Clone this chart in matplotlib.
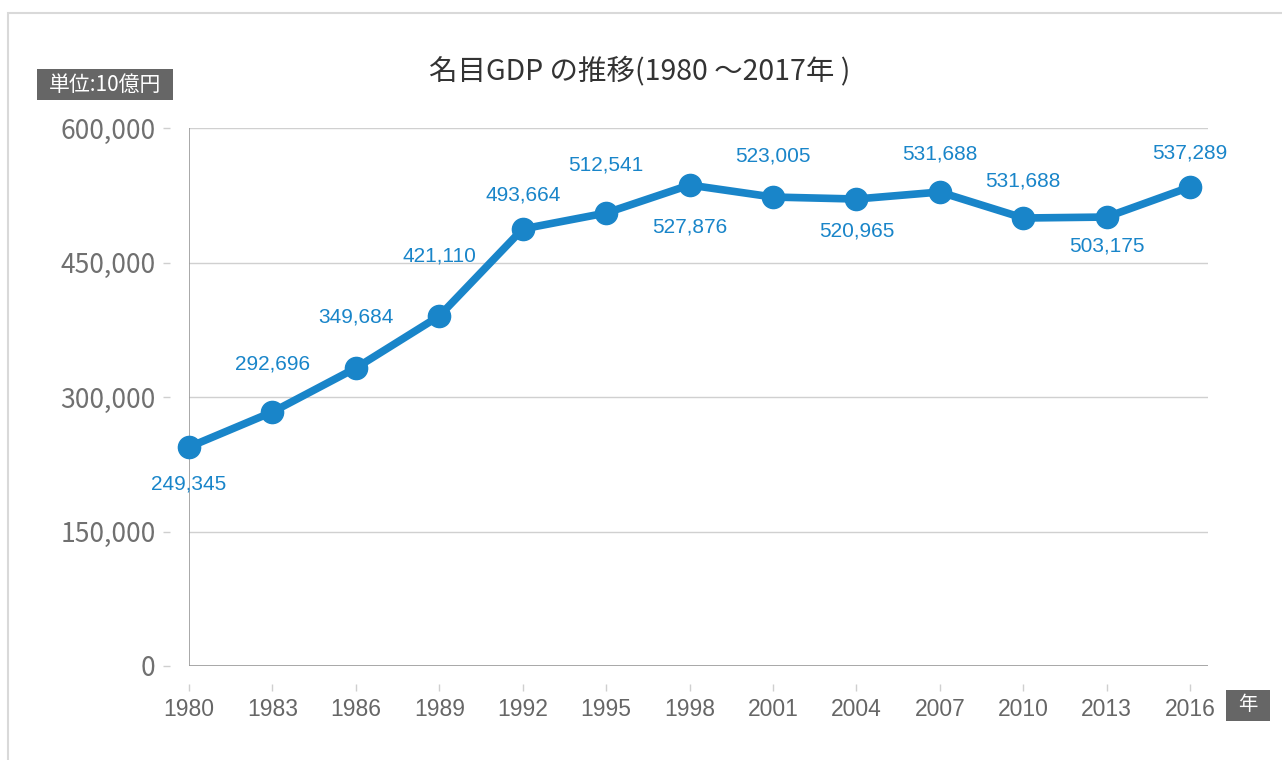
import matplotlib
matplotlib.use("Agg")
import matplotlib.pyplot as plt
from matplotlib.patches import Rectangle

# ---- data ----
years = ["1980", "1983", "1986", "1989", "1992", "1995", "1998",
         "2001", "2004", "2007", "2010", "2013", "2016"]
gdp = [244200, 283300, 332300, 390300, 487400, 505200, 536400,
       523000, 520800, 528600, 499600, 500700, 534200]
value_labels = ["249,345", "292,696", "349,684", "421,110", "493,664", "512,541",
                "527,876", "523,005", "520,965", "531,688", "531,688", "503,175",
                "537,289"]
yticks = [0, 150000, 300000, 450000, 600000]
title = "名目GDP の推移(1980 ～2017年 )"
unit_text = "単位:10億円"
xunit_text = "年"

# label vertical offsets (pixels, positive = up)
label_dy = [-37, 48, 51, 60, 34, 48, -42, 41, -32, 38, 37, -29, 34]

BLUE = "#1985C9"
CJK = ["Noto Sans CJK JP", "DejaVu Sans"]
LAT = ["Liberation Sans", "DejaVu Sans"]

W, H = 1282, 760
fig = plt.figure(figsize=(W / 100, H / 100), dpi=100)
fig.patch.set_facecolor("white")

# outer frame
fig.add_artist(Rectangle((8 / W, -0.1), 2, 1 - 13 / H + 0.1, transform=fig.transFigure,
                         fill=False, edgecolor="#d9d9d9", lw=1.5))

ax = fig.add_axes([189 / W, 94 / H, 1019 / W, 538 / H])
x = list(range(len(years)))
ax.plot(x, gdp, color=BLUE, lw=5.5, marker="o", markersize=16, clip_on=False,
        solid_capstyle="round", zorder=5)

for xi, yi, lab, dy in zip(x, gdp, value_labels, label_dy):
    ax.annotate(lab, (xi, yi), xytext=(0, dy * 0.72), textcoords="offset points",
                ha="center", va="center", color=BLUE, fontsize=15,
                family=LAT, zorder=6)

for s in ["top", "right", "left", "bottom"]:
    ax.spines[s].set_visible(False)
ax.spines["left"].set_position(("outward", 14))
ax.spines["bottom"].set_position(("outward", 13))

ax.set_xlim(0, 12.215)
ax.set_ylim(0, 600000)
ax.set_yticks(yticks)
ax.set_yticklabels([f"{v:,}" for v in yticks])
ax.set_xticks(x)
ax.set_xticklabels(years)
for t in ax.get_yticklabels():
    t.set_fontfamily(CJK)
    t.set_fontsize(19)
    t.set_color("#707070")
for t in ax.get_xticklabels():
    t.set_fontfamily(LAT)
    t.set_fontsize(16.5)
    t.set_color("#666666")
ax.tick_params(axis="y", length=5, width=1, color="#cfcfcf", pad=5)
ax.tick_params(axis="x", length=5, width=1, color="#cfcfcf", pad=5)

ax.yaxis.grid(True, color="#d0d0d0", lw=1)
ax.set_axisbelow(True)
ax.axvline(0, color="#9a9a9a", lw=1.2, zorder=2)
ax.axhline(0, color="#9a9a9a", lw=1.2, zorder=2)

# title
fig.text(640 / W, 1 - 71 / H, title, ha="center", va="center", fontsize=20.5,
         color="#333333", family=CJK)

# unit box (y)
fig.add_artist(Rectangle((37 / W, 660 / H), 136 / W, 31 / H, transform=fig.transFigure,
                         facecolor="#666666", edgecolor="none"))
fig.text(105 / W, 1 - 85 / H, unit_text, ha="center", va="center", fontsize=15,
         color="white", family=CJK)

# unit box (x)
fig.add_artist(Rectangle((1226 / W, 39 / H), 44 / W, 31 / H, transform=fig.transFigure,
                         facecolor="#666666", edgecolor="none"))
fig.text(1248 / W, 1 - 705 / H, xunit_text, ha="center", va="center", fontsize=14,
         color="white", family=CJK)

fig.savefig("out.png", dpi=100, facecolor="white")
